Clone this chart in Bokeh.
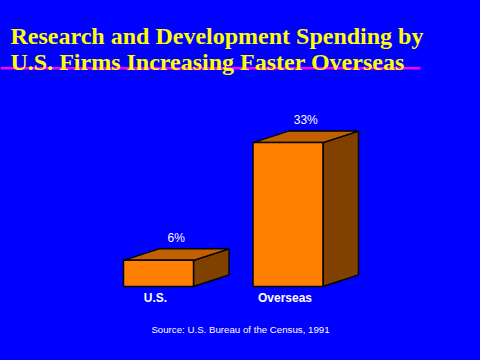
from bokeh.plotting import figure
from bokeh.models import Range1d, Label, ColumnDataSource
from bokeh.embed import file_html
from bokeh.resources import INLINE
from bokeh.core.properties import value

# ---- data ----
categories = ["U.S.", "Overseas"]
growth_pct = [6, 33]
value_labels = ["6%", "33%"]
title_lines = ["Research and Development Spending by", "U.S. Firms Increasing Faster Overseas"]
source_text = "Source: U.S. Bureau of the Census, 1991"

# ---- layout ----
W, H = 464, 344
BASE_PX = H - 286     # baseline height above bottom of canvas (px)
PPU_Y = 4.36          # px per percent
X0_PX = 158           # px position of first category centre
PPU_X = 129.5         # px per category step

BG = "#0000FF"
p = figure(width=W, height=H, output_backend="svg", toolbar_location=None,
           x_range=Range1d(-X0_PX / PPU_X, (W - X0_PX) / PPU_X),
           y_range=Range1d(-BASE_PX / PPU_Y, (H - BASE_PX) / PPU_Y),
           min_border=0, background_fill_color=BG, border_fill_color=BG,
           outline_line_color=None)
p.axis.visible = False
p.grid.visible = False

def dx(px):
    return px / PPU_X

def dy(px):
    return px / PPU_Y

def X(px):
    return (px - X0_PX) / PPU_X

def Y(px_from_top):
    return (H - px_from_top - BASE_PX) / PPU_Y

hw = dx(35)
ddx = dx(35.5)
ddy = dy(11.5)

front_xs, front_ys, top_xs, top_ys, side_xs, side_ys = [], [], [], [], [], []
for i, v in enumerate(growth_pct):
    front_xs.append([i - hw, i + hw, i + hw, i - hw])
    front_ys.append([0, 0, v, v])
    top_xs.append([i - hw, i + hw, i + hw + ddx, i - hw + ddx])
    top_ys.append([v, v, v + ddy, v + ddy])
    side_xs.append([i + hw, i + hw + ddx, i + hw + ddx, i + hw])
    side_ys.append([0, ddy, v + ddy, v])

p.patches(side_xs, side_ys, fill_color="#804000", line_color="black", line_width=1.5)
p.patches(top_xs, top_ys, fill_color="#C06000", line_color="black", line_width=1.5)
p.patches(front_xs, front_ys, fill_color="#FF8000", line_color="black", line_width=1.5)

# value labels above bars
src = ColumnDataSource(dict(
    x=[i + ddx / 2 for i in range(len(growth_pct))],
    y=[v + ddy for v in growth_pct],
    t=value_labels))
p.text("x", "y", text="t", source=src, text_color="white",
       text_font=value("Liberation Sans"), text_font_size="12px",
       text_align="center", text_baseline="alphabetic", y_offset=-11)

# category labels
csrc = ColumnDataSource(dict(x=list(range(len(categories))), y=[0] * len(categories), t=categories))
p.text("x", "y", text="t", source=csrc, text_color="white",
       text_font=value("Liberation Sans"), text_font_size="12px", text_font_style="bold",
       text_align="center", text_baseline="alphabetic", y_offset=11, x_offset=-3)

# title
for k, line in enumerate(title_lines):
    p.add_layout(Label(x=X(10), y=Y(35 + 26 * k), text=line, text_color="#FFFF00",
                       text_font="Liberation Serif", text_font_style="bold",
                       text_font_size="24px", text_baseline="alphabetic"))

# magenta underline
p.line([X(0), X(420)], [Y(67.8), Y(67.8)], line_color="#FF00FF", line_width=2.5)

# source
p.add_layout(Label(x=X(240), y=Y(328.5), text=source_text, text_color="white",
                   text_font="Liberation Sans", text_font_size="9.7px",
                   text_align="center", text_baseline="alphabetic"))

html = file_html(p, INLINE)
html = html.replace("<head>", "<head><style>html,body{background:#0000FF;margin:0;}</style>", 1)
open("out.html", "w").write(html)
